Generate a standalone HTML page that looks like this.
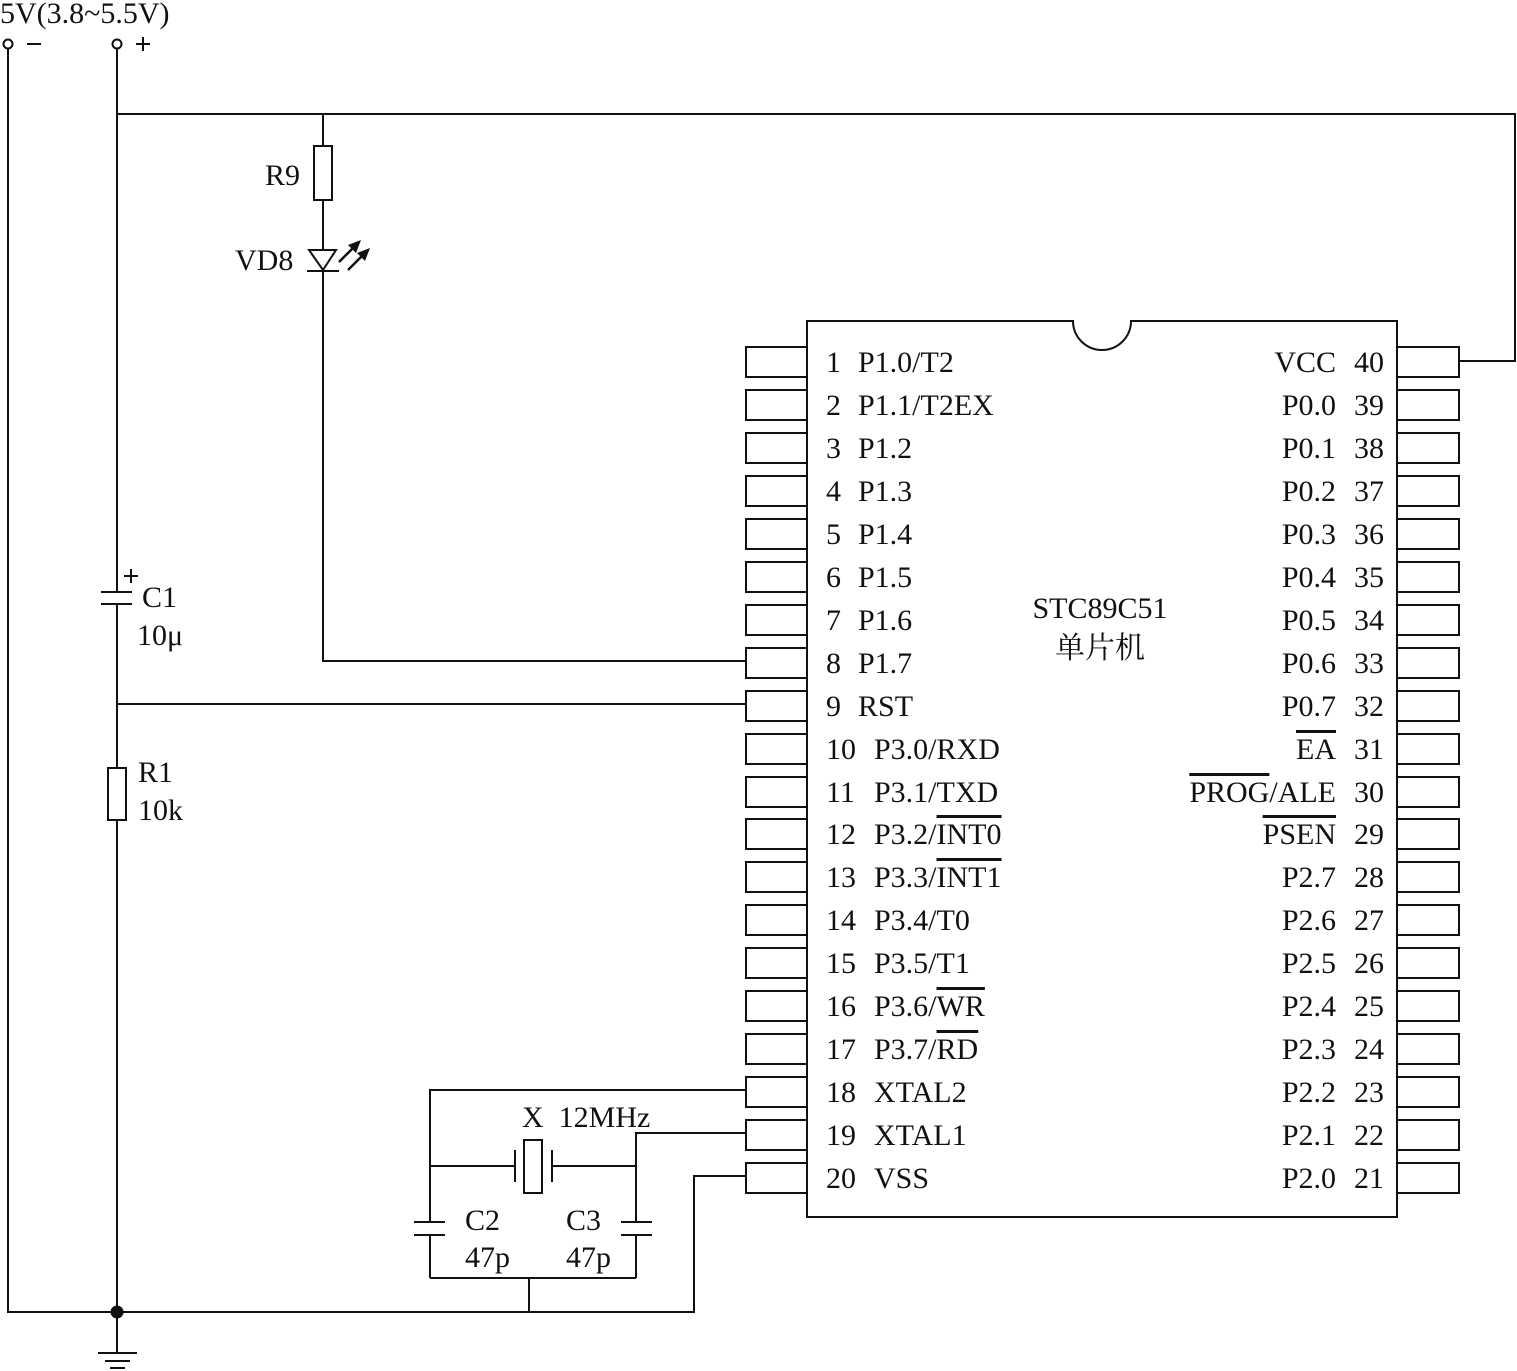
<!DOCTYPE html>
<html><head><meta charset="utf-8"><style>
html,body{margin:0;padding:0;background:#fff;}
svg{display:block;}
text{font-family:"Liberation Serif","Noto Serif CJK SC",serif;font-size:30px;fill:#111;}
.o{text-decoration:overline;}
</style></head><body>
<svg width="1517" height="1371" viewBox="0 0 1517 1371" xmlns="http://www.w3.org/2000/svg">
<g stroke="#111" stroke-width="2" fill="none">
<circle cx="8" cy="44" r="4.5"/><circle cx="117" cy="44" r="4.5"/>
<line x1="27" y1="44" x2="41" y2="44"/>
<line x1="136" y1="44" x2="150" y2="44"/><line x1="143" y1="37" x2="143" y2="51"/>
<polyline points="8,49 8,1312 694,1312 694,1176 746,1176"/>
<line x1="117" y1="49" x2="117" y2="592"/>
<line x1="117" y1="604" x2="117" y2="768"/>
<line x1="117" y1="820" x2="117" y2="1353"/>
<polyline points="117,114 1515,114 1515,361 1459,361"/>
<line x1="101" y1="592" x2="132" y2="592"/><line x1="101" y1="604" x2="132" y2="604"/>
<line x1="124" y1="576" x2="138" y2="576"/><line x1="131" y1="569" x2="131" y2="583"/>
<rect x="108" y="768" width="18" height="52"/>
<line x1="117" y1="704" x2="746" y2="704"/>
<line x1="323" y1="114" x2="323" y2="146"/>
<rect x="314" y="146" width="18" height="54"/>
<line x1="323" y1="200" x2="323" y2="250"/>
<polygon points="309,250 336,250 323,270"/>
<line x1="307" y1="271" x2="339" y2="271"/>
<polyline points="323,271 323,661 746,661"/>
<line x1="339" y1="262" x2="359" y2="242" stroke-width="2.5"/>
<line x1="348" y1="270" x2="368" y2="250" stroke-width="2.5"/>
<polyline points="746,1090 430,1090 430,1222"/>
<line x1="430" y1="1235" x2="430" y2="1278"/>
<line x1="430" y1="1166" x2="515" y2="1166"/>
<line x1="515" y1="1150" x2="515" y2="1182"/>
<rect x="524" y="1140" width="18" height="53"/>
<line x1="552" y1="1150" x2="552" y2="1182"/>
<line x1="552" y1="1166" x2="636" y2="1166"/>
<polyline points="746,1133 636,1133 636,1222"/>
<line x1="636" y1="1235" x2="636" y2="1278"/>
<line x1="414" y1="1222" x2="445" y2="1222"/><line x1="414" y1="1235" x2="445" y2="1235"/>
<line x1="621" y1="1222" x2="652" y2="1222"/><line x1="621" y1="1235" x2="652" y2="1235"/>
<polyline points="430,1278 636,1278"/>
<line x1="529" y1="1278" x2="529" y2="1312"/>
<line x1="98" y1="1353" x2="137" y2="1353"/>
<line x1="105" y1="1361" x2="130" y2="1361"/>
<line x1="110" y1="1368" x2="125" y2="1368"/>
<path d="M807,321 H1073 A29,29 0 0 0 1131,321 H1397 V1217 H807 Z"/>
</g>
<polygon points="361,240 348,245 356,253" fill="#111"/>
<polygon points="370,248 357,253 365,261" fill="#111"/>
<circle cx="117" cy="1312" r="6.5" fill="#111"/>
<g stroke="#111" stroke-width="2" fill="none">
<rect x="746" y="347" width="61" height="30"/><rect x="746" y="390" width="61" height="30"/>
<rect x="746" y="433" width="61" height="30"/><rect x="746" y="476" width="61" height="30"/>
<rect x="746" y="519" width="61" height="30"/><rect x="746" y="562" width="61" height="30"/>
<rect x="746" y="605" width="61" height="30"/><rect x="746" y="648" width="61" height="30"/>
<rect x="746" y="691" width="61" height="30"/><rect x="746" y="734" width="61" height="30"/>
<rect x="746" y="777" width="61" height="30"/><rect x="746" y="819" width="61" height="30"/>
<rect x="746" y="862" width="61" height="30"/><rect x="746" y="905" width="61" height="30"/>
<rect x="746" y="948" width="61" height="30"/><rect x="746" y="991" width="61" height="30"/>
<rect x="746" y="1034" width="61" height="30"/><rect x="746" y="1077" width="61" height="30"/>
<rect x="746" y="1120" width="61" height="30"/><rect x="746" y="1163" width="61" height="30"/>
<rect x="1397" y="347" width="62" height="30"/><rect x="1397" y="390" width="62" height="30"/>
<rect x="1397" y="433" width="62" height="30"/><rect x="1397" y="476" width="62" height="30"/>
<rect x="1397" y="519" width="62" height="30"/><rect x="1397" y="562" width="62" height="30"/>
<rect x="1397" y="605" width="62" height="30"/><rect x="1397" y="648" width="62" height="30"/>
<rect x="1397" y="691" width="62" height="30"/><rect x="1397" y="734" width="62" height="30"/>
<rect x="1397" y="777" width="62" height="30"/><rect x="1397" y="819" width="62" height="30"/>
<rect x="1397" y="862" width="62" height="30"/><rect x="1397" y="905" width="62" height="30"/>
<rect x="1397" y="948" width="62" height="30"/><rect x="1397" y="991" width="62" height="30"/>
<rect x="1397" y="1034" width="62" height="30"/><rect x="1397" y="1077" width="62" height="30"/>
<rect x="1397" y="1120" width="62" height="30"/><rect x="1397" y="1163" width="62" height="30"/>
</g>
<text x="0" y="23">5V(3.8~5.5V)</text>
<text x="265" y="185">R9</text>
<text x="235" y="270">VD8</text>
<text x="142" y="607">C1</text>
<text x="137" y="645">10μ</text>
<text x="138" y="782">R1</text>
<text x="138" y="820">10k</text>
<text x="522" y="1127">X&#160;&#160;12MHz</text>
<text x="465" y="1230">C2</text><text x="465" y="1267">47p</text>
<text x="566" y="1230">C3</text><text x="566" y="1267">47p</text>
<text x="1100" y="618" text-anchor="middle">STC89C51</text>
<text x="1100" y="658" text-anchor="middle">单片机</text>
<g>
<text x="826" y="372">1</text><text x="858" y="372">P1.0/T2</text>
<text x="826" y="415">2</text><text x="858" y="415">P1.1/T2EX</text>
<text x="826" y="458">3</text><text x="858" y="458">P1.2</text>
<text x="826" y="501">4</text><text x="858" y="501">P1.3</text>
<text x="826" y="544">5</text><text x="858" y="544">P1.4</text>
<text x="826" y="587">6</text><text x="858" y="587">P1.5</text>
<text x="826" y="630">7</text><text x="858" y="630">P1.6</text>
<text x="826" y="673">8</text><text x="858" y="673">P1.7</text>
<text x="826" y="716">9</text><text x="858" y="716">RST</text>
<text x="826" y="759">10</text><text x="874" y="759">P3.0/RXD</text>
<text x="826" y="802">11</text><text x="874" y="802">P3.1/TXD</text>
<text x="826" y="844">12</text><text x="874" y="844">P3.2/<tspan class="o">INT0</tspan></text>
<text x="826" y="887">13</text><text x="874" y="887">P3.3/<tspan class="o">INT1</tspan></text>
<text x="826" y="930">14</text><text x="874" y="930">P3.4/T0</text>
<text x="826" y="973">15</text><text x="874" y="973">P3.5/T1</text>
<text x="826" y="1016">16</text><text x="874" y="1016">P3.6/<tspan class="o">WR</tspan></text>
<text x="826" y="1059">17</text><text x="874" y="1059">P3.7/<tspan class="o">RD</tspan></text>
<text x="826" y="1102">18</text><text x="874" y="1102">XTAL2</text>
<text x="826" y="1145">19</text><text x="874" y="1145">XTAL1</text>
<text x="826" y="1188">20</text><text x="874" y="1188">VSS</text>
</g>
<g text-anchor="end">
<text x="1384" y="372">40</text><text x="1336" y="372">VCC</text>
<text x="1384" y="415">39</text><text x="1336" y="415">P0.0</text>
<text x="1384" y="458">38</text><text x="1336" y="458">P0.1</text>
<text x="1384" y="501">37</text><text x="1336" y="501">P0.2</text>
<text x="1384" y="544">36</text><text x="1336" y="544">P0.3</text>
<text x="1384" y="587">35</text><text x="1336" y="587">P0.4</text>
<text x="1384" y="630">34</text><text x="1336" y="630">P0.5</text>
<text x="1384" y="673">33</text><text x="1336" y="673">P0.6</text>
<text x="1384" y="716">32</text><text x="1336" y="716">P0.7</text>
<text x="1384" y="759">31</text><text x="1336" y="759"><tspan class="o">EA</tspan></text>
<text x="1384" y="802">30</text><text x="1336" y="802"><tspan class="o">PROG</tspan>/ALE</text>
<text x="1384" y="844">29</text><text x="1336" y="844"><tspan class="o">PSEN</tspan></text>
<text x="1384" y="887">28</text><text x="1336" y="887">P2.7</text>
<text x="1384" y="930">27</text><text x="1336" y="930">P2.6</text>
<text x="1384" y="973">26</text><text x="1336" y="973">P2.5</text>
<text x="1384" y="1016">25</text><text x="1336" y="1016">P2.4</text>
<text x="1384" y="1059">24</text><text x="1336" y="1059">P2.3</text>
<text x="1384" y="1102">23</text><text x="1336" y="1102">P2.2</text>
<text x="1384" y="1145">22</text><text x="1336" y="1145">P2.1</text>
<text x="1384" y="1188">21</text><text x="1336" y="1188">P2.0</text>
</g>
</svg>
</body></html>
